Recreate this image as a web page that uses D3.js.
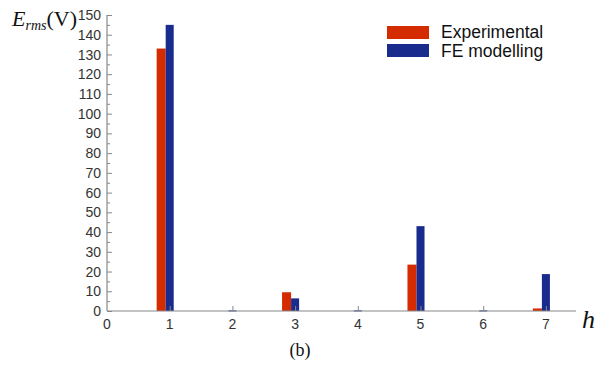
<!DOCTYPE html>
<html>
<head>
<meta charset="utf-8">
<script src="https://cdn.jsdelivr.net/npm/d3@7"></script>
<style>
  body { margin: 0; background: #fff; }
  svg { display: block; }
</style>
</head>
<body>
<svg id="chart"></svg>
<script>
// harmonic orders and RMS values
const harmonics = [1, 2, 3, 4, 5, 6, 7];
const experimental = [133, 0, 9.5, 0, 23.5, 0, 1.3];
const feModelling = [145, 0.3, 6.4, 0.3, 43, 0.3, 18.7];
const yTicks = [0, 10, 20, 30, 40, 50, 60, 70, 80, 90, 100, 110, 120, 130, 140, 150];
const xTicks = [0, 1, 2, 3, 4, 5, 6, 7];
const seriesNames = ["Experimental", "FE modelling"];

const width = 601, height = 367;
const colors = ["#d42c00", "#1a2b8e"];

const svg = d3.select("#chart")
    .attr("width", width)
    .attr("height", height)
    .attr("viewBox", [0, 0, width, height]);

const x = d3.scaleLinear().domain([0, 7.48]).range([107, 576]);
const y = d3.scaleLinear().domain([0, 150]).range([311, 15]);

// bars: blue centred on the tick, red just left of it
const half = 0.064, redW = 0.144;
const rows = harmonics.map((h, i) => ({ h, e: experimental[i], f: feModelling[i] }));

svg.append("g").selectAll("rect.exp")
    .data(rows.filter(d => d.e > 0))
    .join("rect")
    .attr("x", d => x(d.h - half - redW))
    .attr("width", d => x(d.h - half) - x(d.h - half - redW))
    .attr("y", d => y(d.e))
    .attr("height", d => y(0) - y(d.e))
    .attr("fill", colors[0]);

svg.append("g").selectAll("rect.fe")
    .data(rows.filter(d => d.f > 0))
    .join("rect")
    .attr("x", d => x(d.h - half))
    .attr("width", d => x(d.h + half) - x(d.h - half))
    .attr("y", d => y(d.f))
    .attr("height", d => Math.max(1, y(0) - y(d.f)))
    .attr("fill", colors[1]);

// y axis with inward ticks and minor ticks
const yAxis = svg.append("g").attr("transform", `translate(${x(0)},0)`);
yAxis.call(d3.axisRight(y).tickValues(d3.range(0, 151, 5)).tickSize(0).tickFormat(""))
    .call(g => g.select(".domain").remove());
yAxis.selectAll(".tick line")
    .attr("x2", d => d % 10 === 0 ? 5 : 3)
    .attr("stroke", "#888");
yAxis.append("line")
    .attr("y1", y(0)).attr("y2", y(150))
    .attr("stroke", "#888").attr("stroke-width", 1.2);
yAxis.selectAll(".ylab")
    .data(yTicks)
    .join("text")
    .attr("class", "ylab")
    .attr("x", -6)
    .attr("y", d => y(d))
    .attr("dy", "0.36em")
    .attr("text-anchor", "end")
    .attr("font-family", "Liberation Sans, Arial, sans-serif")
    .attr("font-size", 14)
    .attr("fill", "#333")
    .text(d => d);

// x axis
const xAxis = svg.append("g").attr("transform", `translate(0,${y(0)})`);
xAxis.call(d3.axisTop(x).tickValues(xTicks.slice(1)).tickSize(5).tickFormat(""))
    .call(g => g.select(".domain").remove())
    .call(g => g.selectAll(".tick line").attr("stroke", "#888"));
xAxis.append("line")
    .attr("x1", x(0)).attr("x2", 576)
    .attr("stroke", "#888").attr("stroke-width", 1.2);
xAxis.selectAll(".xlab")
    .data(xTicks)
    .join("text")
    .attr("class", "xlab")
    .attr("x", d => x(d))
    .attr("y", 18)
    .attr("text-anchor", "middle")
    .attr("font-family", "Liberation Sans, Arial, sans-serif")
    .attr("font-size", 14)
    .attr("fill", "#333")
    .text(d => d);

// axis titles
const yTitle = svg.append("text")
    .attr("x", 12).attr("y", 26)
    .attr("font-family", "Liberation Serif, Times New Roman, serif")
    .attr("font-size", 22)
    .attr("fill", "#111");
yTitle.append("tspan").attr("font-style", "italic").text("E");
yTitle.append("tspan").attr("font-style", "italic").attr("font-size", 14).attr("dy", 4).text("rms");
yTitle.append("tspan").attr("dy", -4).text("(V)");

svg.append("text")
    .attr("x", 582).attr("y", 328)
    .attr("font-family", "Liberation Serif, Times New Roman, serif")
    .attr("font-style", "italic")
    .attr("font-size", 26)
    .attr("fill", "#111")
    .text("h");

svg.append("text")
    .attr("x", 300).attr("y", 356)
    .attr("text-anchor", "middle")
    .attr("font-family", "Liberation Serif, Times New Roman, serif")
    .attr("font-size", 18)
    .attr("fill", "#111")
    .text("(b)");

// legend
const legend = svg.append("g");
seriesNames.forEach((name, i) => {
    legend.append("rect")
        .attr("x", 387).attr("y", 26 + i * 18)
        .attr("width", 42).attr("height", 13)
        .attr("fill", colors[i]);
    legend.append("text")
        .attr("x", 441).attr("y", 37.5 + i * 19.5)
        .attr("font-family", "Liberation Sans, Arial, sans-serif")
        .attr("font-size", 17.5)
        .attr("fill", "#111")
        .text(name);
});
</script>
</body>
</html>
